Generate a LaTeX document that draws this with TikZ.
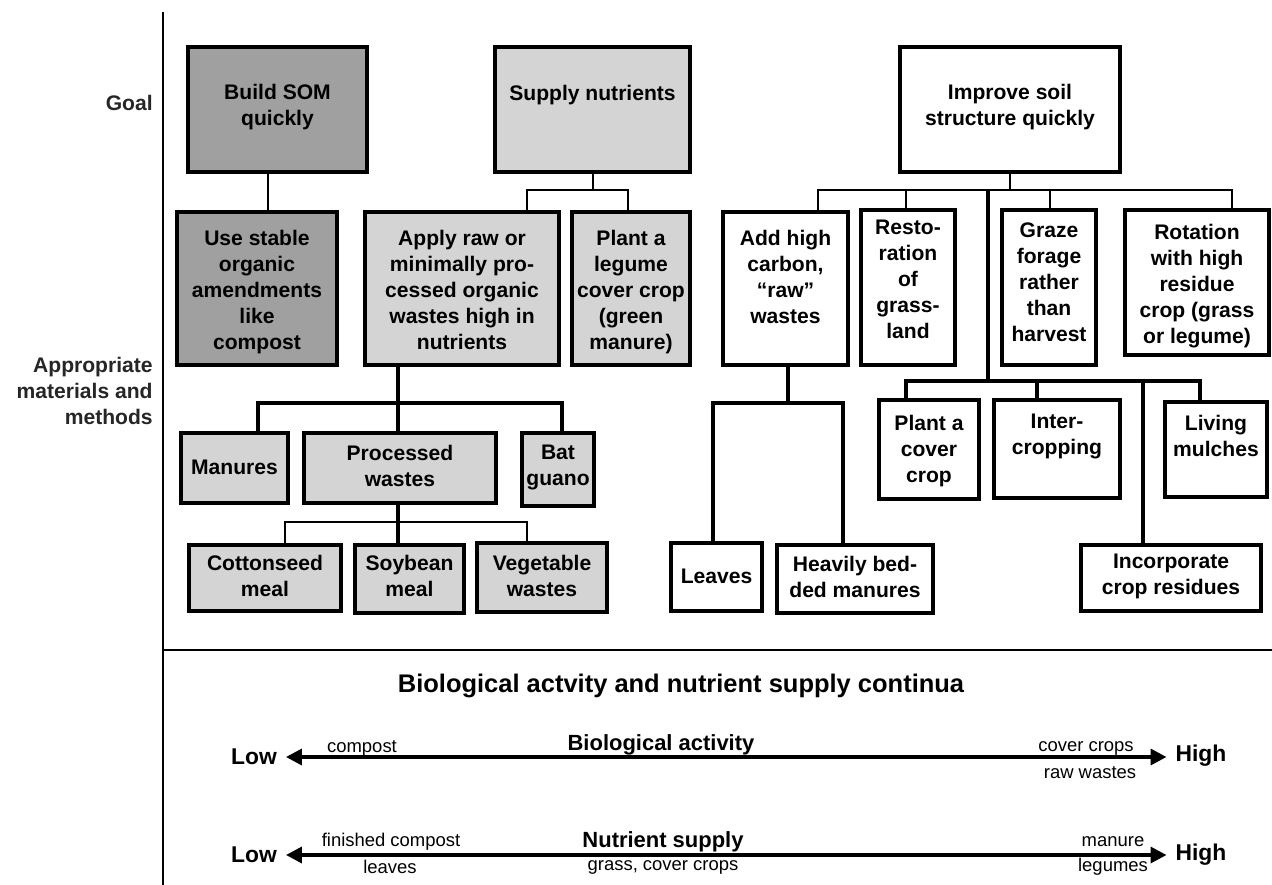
\documentclass[tikz,border=0pt]{standalone}
\usepackage{fontspec}
\setmainfont{Liberation Sans}
\usetikzlibrary{arrows.meta}
\definecolor{dkgray}{RGB}{160,160,160}
\definecolor{ltgray}{RGB}{212,212,212}
\newcommand\mybox[8]{%
  \node[boxst,#6,minimum width={(#4-#2)*0.02cm},minimum height={(#5-#3)*0.02cm}] (#1) at ({(#2+#4)/2},{(#3+#5)/2}) {};
  \node[btext,anchor=north] (#1-t) at ({(#2+#4)/2},#7) {#8};}
\begin{document}
\begin{tikzpicture}[x=0.02cm,y=-0.02cm,
  boxst/.style={draw=black,line width=2pt,inner sep=0pt,outer sep=0pt},
  fdark/.style={fill=dkgray}, flight/.style={fill=ltgray}, fwhite/.style={fill=white},
  btext/.style={font=\bfseries\fontsize{12}{14.8}\selectfont,align=center,inner sep=0pt},
  lbl/.style={font=\bfseries\fontsize{12}{14.8}\selectfont,text=black!85,inner sep=0pt},
  connthin/.style={line width=1.2pt},
  connmid/.style={line width=1.6pt},
  connthick/.style={line width=2.2pt},
  axis/.style={line width=1.7pt},
  ttl/.style={font=\bfseries\fontsize{14.5}{17}\selectfont,inner sep=0pt},
  lowhigh/.style={font=\bfseries\fontsize{13}{15}\selectfont,inner sep=0pt},
  midl/.style={font=\bfseries\fontsize{12.5}{15}\selectfont,inner sep=0pt},
  smalll/.style={font=\fontsize{10.5}{12}\selectfont,inner sep=0pt},
  biarrow/.style={line width=2pt,arrows={Triangle[length=9pt,width=9pt]-Triangle[length=9pt,width=9pt]},shorten <=5pt,shorten >=5pt}]
\useasboundingbox (0,0) rectangle (1272,885);

% axes
\coordinate (vtop) at (163,12);
\coordinate (vbot) at (163,885);
\coordinate (hl) at (163,650);
\coordinate (hr) at (1272,650);
\draw[axis] (vtop) -- (vbot);
\draw[axis] (hl) -- (hr);

% left labels
\node[lbl,anchor=east] (goal) at (153,103) {Goal};
\node[lbl,anchor=east,align=right] (approp) at (153,391) {Appropriate\\materials and\\methods};

% boxes
\mybox{bsom}{188}{47}{367}{172}{fdark}{84}{Build SOM\\quickly}
\mybox{supply}{495}{47}{690}{172}{flight}{85}{Supply nutrients}
\mybox{improve}{900}{47}{1120}{172}{fwhite}{84}{Improve soil\\structure quickly}
\mybox{stable}{177}{212}{337}{365}{fdark}{230}{Use stable\\organic\\amendments\\like\\compost}
\mybox{applyraw}{365}{212}{559}{365}{flight}{230}{Apply raw or\\minimally pro-\\cessed organic\\wastes high in\\nutrients}
\mybox{legume}{572}{212}{690}{365}{flight}{230}{Plant a\\legume\\cover crop\\(green\\manure)}
\mybox{addhigh}{723}{212}{848}{365}{fwhite}{230}{Add high\\carbon,\\“raw”\\wastes}
\mybox{resto}{861}{210}{955}{365}{fwhite}{220}{Resto-\\ration\\of\\grass-\\land}
\mybox{graze}{1002}{210}{1096}{365}{fwhite}{222}{Graze\\forage\\rather\\than\\harvest}
\mybox{rotation}{1125}{210}{1269}{355}{fwhite}{224}{Rotation\\with high\\residue\\crop (grass\\or legume)}
\mybox{manures}{181}{433}{288}{503}{flight}{460}{Manures}
\mybox{processed}{304}{433}{496}{503}{flight}{445}{Processed\\wastes}
\mybox{batguano}{522}{433}{594}{506}{flight}{445}{Bat\\guano}
\mybox{cotton}{189}{545}{341}{611}{flight}{555}{Cottonseed\\meal}
\mybox{soybean}{355}{545}{464}{613}{flight}{555}{Soybean\\meal}
\mybox{vegetable}{477}{543}{607}{612}{flight}{555}{Vegetable\\wastes}
\mybox{leaves}{671}{543}{762}{611}{fwhite}{569}{Leaves}
\mybox{heavily}{777}{545}{933}{613}{fwhite}{556}{Heavily bed-\\ded manures}
\mybox{plantcover}{879}{400}{979}{499}{fwhite}{415}{Plant a\\cover\\crop}
\mybox{intercrop}{994}{400}{1120}{498}{fwhite}{414}{Inter-\\cropping}
\mybox{living}{1165}{402}{1267}{497}{fwhite}{415}{Living\\mulches}
\mybox{incorporate}{1081}{545}{1261}{611}{fwhite}{554}{Incorporate\\crop residues}

% Build SOM link
\coordinate (b1) at (268,190);
\draw[connthin] (b1 |- bsom.south) -- (b1 |- stable.north);

% Supply tree
\coordinate (s0) at (593,190);
\coordinate (s1) at (527,190);
\coordinate (s2) at (628,190);
\draw[connmid] (s0 |- supply.south) -- (s0);
\draw[connmid] (s1 |- applyraw.north) |- (s2) -- (s2 |- legume.north);

% Apply raw tree
\coordinate (a0) at (398,403);
\coordinate (a1) at (258,403);
\coordinate (a3) at (562,403);
\draw[connthick] (a0 |- applyraw.south) -- (a0 |- processed.north);
\draw[connthick] (a1 |- manures.north) |- (a3) -- (a3 |- batguano.north);

% Processed tree
\coordinate (p0) at (398,522);
\coordinate (p1) at (285,522);
\coordinate (p3) at (527,522);
\draw[connthick] (p0 |- processed.south) -- (p0 |- soybean.north);
\draw[connthin] (p1 |- cotton.north) |- (p3) -- (p3 |- vegetable.north);

% Improve tree
\coordinate (i0) at (1010,190);
\coordinate (i1) at (818,190);
\coordinate (i2) at (906,190);
\coordinate (ic) at (988,190);
\coordinate (i4) at (1050,190);
\coordinate (i5) at (1232,190);
\draw[connmid] (i0 |- improve.south) -- (i0);
\draw[connmid] (i1 |- addhigh.north) |- (i5) -- (i5 |- rotation.north);
\draw[connmid] (i2) -- (i2 |- resto.north);
\draw[connmid] (i4) -- (i4 |- graze.north);

\coordinate (k0) at (988,381);
\coordinate (k1) at (906,381);
\coordinate (k2) at (1037,381);
\coordinate (k3) at (1143,381);
\coordinate (k4) at (1200,381);
\draw[connthick] (ic) -- (k0);
\draw[connthick] (k1 |- plantcover.north) |- (k4) -- (k4 |- living.north);
\draw[connthick] (k2) -- (k2 |- intercrop.north);
\draw[connthick] (k3) -- (k3 |- incorporate.north);

% Add high tree
\coordinate (h0) at (788,403);
\coordinate (h1) at (713,403);
\coordinate (h2) at (843,403);
\draw[connthick] (h0 |- addhigh.south) -- (h0);
\draw[connthick] (h1 |- leaves.north) |- (h2) -- (h2 |- heavily.north);

% bottom panel
\node[ttl] (title) at (681,686) {Biological actvity and nutrient supply continua};

\node[lowhigh] (low1) at (254,757) {Low};
\node[lowhigh] (high1) at (1201,756) {High};
\draw[biarrow] (low1.east) -- (high1.west |- low1.east);
\node[smalll] (compost) at (362,748) {compost};
\node[midl] (bioact) at (661,745) {Biological activity};
\node[smalll] (cover) at (1086,748) {cover crops};
\node[smalll] (raww) at (1090,773) {raw wastes};

\node[lowhigh] (low2) at (254,855) {Low};
\node[lowhigh] (high2) at (1201,855) {High};
\draw[biarrow] (low2.east) -- (high2.west);
\node[smalll] (finished) at (391,842) {finished compost};
\node[smalll] (leavesl) at (390,867) {leaves};
\node[midl] (nutr) at (663,842) {Nutrient supply};
\node[smalll] (grass) at (663,867) {grass, cover crops};
\node[smalll] (manure) at (1113,842) {manure};
\node[smalll] (legumes) at (1113,867) {legumes};
\end{tikzpicture}
\end{document}
